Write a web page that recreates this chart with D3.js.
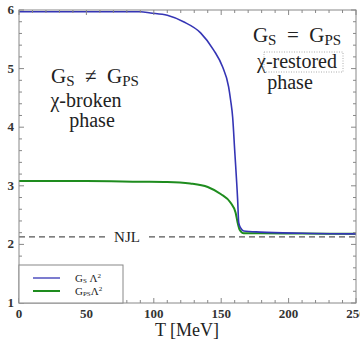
<!DOCTYPE html>
<html><head><meta charset="utf-8">
<script src="https://cdn.jsdelivr.net/npm/d3@7"></script>
<style>body{margin:0;background:#fff;}svg{display:block;}</style>
</head><body>
<svg id="c" width="360" height="340"></svg>
<script>
// Data
const T_gs  = [0, 50, 90, 97.5, 110, 122, 134.7, 144.3, 151, 155.5, 157, 158.5, 160, 162.2, 163, 164.4, 166.7, 179, 210, 250];
const G_S   = [5.97, 5.97, 5.97, 5.95, 5.91, 5.80, 5.61, 5.32, 5.03, 4.69, 4.46, 4.17, 3.61, 2.76, 2.37, 2.28, 2.23, 2.21, 2.19, 2.18];
const T_gps = [0, 50, 90, 110, 127, 140, 149.6, 157, 160.7, 162.2, 163.7, 166.7, 179, 210, 250];
const G_PS  = [3.08, 3.08, 3.07, 3.065, 3.04, 2.98, 2.86, 2.71, 2.54, 2.37, 2.25, 2.19, 2.19, 2.185, 2.18];
const NJL = 2.13;
const xTicks = [0, 50, 100, 150, 200, 250];
const yTicks = [1, 2, 3, 4, 5, 6];
const legendSubs = ["S", "PS"];

const svg = d3.select("#c");
const L = 19, R = 356, Tp = 10, B = 303;
const x = d3.scaleLinear().domain([0, 250]).range([L, R]);
const y = d3.scaleLinear().domain([1, 6]).range([B, Tp]);
const serif = "Liberation Serif";
const frameCol = "#888";
const ink = "#222";

const line = d3.line().x(d => x(d[0])).y(d => y(d[1])).curve(d3.curveMonotoneX);
// NJL dashed line with gap for the label
svg.append("line").attr("x1", x(0)).attr("x2", x(250)).attr("y1", y(NJL)).attr("y2", y(NJL))
  .attr("stroke", "#555").attr("stroke-width", 1.3).attr("stroke-dasharray", "6,4");
svg.append("rect").attr("x", 106).attr("y", y(NJL) - 8).attr("width", 40).attr("height", 15).attr("fill", "#fff");
svg.append("text").attr("x", 127).attr("y", y(NJL) + 5).attr("text-anchor", "middle")
  .style("font-family", serif).attr("font-size", 15).attr("fill", ink).text("NJL");

svg.append("path").datum(T_gps.map((t, i) => [t, G_PS[i]])).attr("d", line)
  .attr("fill", "none").attr("stroke", "#1e8c1e").attr("stroke-width", 2);
svg.append("path").datum(T_gs.map((t, i) => [t, G_S[i]])).attr("d", line)
  .attr("fill", "none").attr("stroke", "#3535b5").attr("stroke-width", 1.6);

// Frame
svg.append("rect").attr("x", L).attr("y", Tp).attr("width", R - L).attr("height", B - Tp)
  .attr("fill", "none").attr("stroke", frameCol).attr("stroke-width", 1);

// Ticks (inward, all sides)
const g = svg.append("g").attr("stroke", frameCol).attr("stroke-width", 1);
d3.range(0, 251, 10).forEach(v => {
  const major = v % 50 === 0, len = major ? 5 : 3;
  g.append("line").attr("x1", x(v)).attr("x2", x(v)).attr("y1", B).attr("y2", B - len);
  g.append("line").attr("x1", x(v)).attr("x2", x(v)).attr("y1", Tp).attr("y2", Tp + len);
});
d3.range(1, 6.001, 0.2).forEach(v => {
  const major = Math.abs(v - Math.round(v)) < 1e-6, len = major ? 5 : 3;
  g.append("line").attr("y1", y(v)).attr("y2", y(v)).attr("x1", L).attr("x2", L + len);
  g.append("line").attr("y1", y(v)).attr("y2", y(v)).attr("x1", R).attr("x2", R - len);
});

// Tick labels
xTicks.forEach(v => svg.append("text").attr("x", x(v)).attr("y", 318).attr("text-anchor", "middle")
  .style("font-family", serif).attr("font-size", 13).attr("font-weight", "bold").attr("fill", "#333").text(v));
yTicks.forEach(v => svg.append("text").attr("x", 14).attr("y", y(v) + 4).attr("text-anchor", "end")
  .style("font-family", serif).attr("font-size", 13).attr("font-weight", "bold").attr("fill", "#333").text(v));

// Axis title
svg.append("text").attr("x", 187).attr("y", 336).attr("text-anchor", "middle")
  .style("font-family", serif).attr("font-size", 18).attr("fill", ink).text("T [MeV]");

// Annotations
function gLabel(cx, by, parts) {
  const t = svg.append("text").attr("x", cx).attr("y", by).attr("text-anchor", "middle")
    .style("font-family", serif).attr("font-size", 21).attr("fill", ink)
    .attr("xml:space", "preserve").style("white-space", "pre");
  parts.forEach(p => {
    const ts = t.append("tspan").text(p.t);
    if (p.sub) ts.attr("font-size", 15).attr("dy", 3);
    if (p.up) ts.attr("dy", -3);
  });
  return t;
}
function plain(cx, by, s) {
  return svg.append("text").attr("x", cx).attr("y", by).attr("text-anchor", "middle")
    .style("font-family", serif).attr("font-size", 20).attr("fill", ink).text(s);
}
gLabel(95, 83, [{t: "G"}, {t: "S", sub: 1}, {t: "  ≠  G", up: 1}, {t: "PS", sub: 1}]);
plain(86, 107, "χ-broken");
plain(92, 127, "phase");

gLabel(297, 42, [{t: "G"}, {t: "S", sub: 1}, {t: "  =  G", up: 1}, {t: "PS", sub: 1}]);
plain(297, 68, "χ-restored");
svg.append("rect").attr("x", 264).attr("y", 52).attr("width", 79).attr("height", 20)
  .attr("fill", "none").attr("stroke", "#999").attr("stroke-width", 0.8).attr("stroke-dasharray", "1,1.5");
plain(290, 89, "phase");

// Legend
svg.append("rect").attr("x", L).attr("y", 265).attr("width", 104).attr("height", B - 265)
  .attr("fill", "#fff").attr("stroke", frameCol).attr("stroke-width", 1);
const legCols = ["#3535b5", "#1e8c1e"];
const legW = [1.3, 2];
legendSubs.forEach((sub, i) => {
  const ly = 278 + i * 13;
  svg.append("line").attr("x1", 33).attr("x2", 60).attr("y1", ly).attr("y2", ly)
    .attr("stroke", legCols[i]).attr("stroke-width", legW[i]);
  const t = svg.append("text").attr("x", 75).attr("y", ly + 4).style("font-family", serif)
    .attr("font-size", 11).attr("fill", ink);
  t.append("tspan").text("G");
  t.append("tspan").attr("font-size", 7).attr("dy", 1).text(sub);
  t.append("tspan").attr("dy", -1).text(i === 0 ? " Λ" : "Λ");
  t.append("tspan").attr("font-size", 7).attr("dy", -4).text("2");
});
</script>
</body></html>
